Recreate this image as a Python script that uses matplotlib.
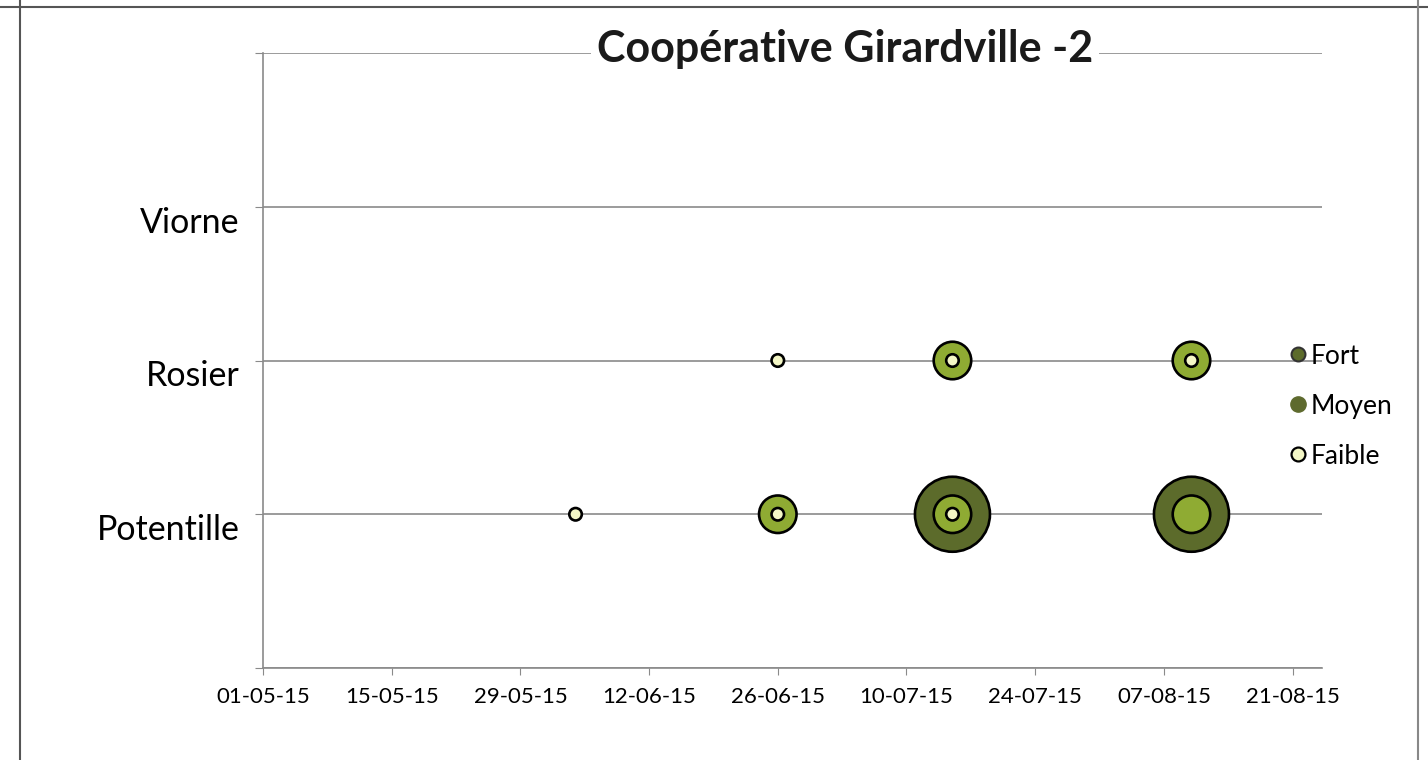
import numpy as np
import pandas as pd
import matplotlib
matplotlib.use('Agg')
import matplotlib.pyplot as plt
import matplotlib.dates as mdates
from matplotlib.lines import Line2D

plt.rcParams['font.family'] = ['Lato', 'DejaVu Sans']

# categories on the y axis
plantes = ['Potentille', 'Rosier', 'Viorne']

# series: dates, plant, bubble value (area units)
fort_dates = ['2015-07-15', '2015-08-10']
fort_plante = ['Potentille', 'Potentille']
fort_val = [36, 36]

moyen_dates = ['2015-06-26', '2015-07-15', '2015-08-10', '2015-07-15', '2015-08-10']
moyen_plante = ['Potentille', 'Potentille', 'Potentille', 'Rosier', 'Rosier']
moyen_val = [9, 9, 9, 9, 9]

faible_dates = ['2015-06-04', '2015-06-26', '2015-07-15', '2015-06-26', '2015-07-15', '2015-08-10']
faible_plante = ['Potentille', 'Potentille', 'Potentille', 'Rosier', 'Rosier', 'Rosier']
faible_val = [1, 1, 1, 1, 1, 1]

tick_dates = pd.date_range('2015-05-01', '2015-08-21', freq='14D')

fig = plt.figure(figsize=(14.28, 7.6), dpi=100)
ax = fig.add_axes([263/1428, 1-668/760, (1322-263)/1428, (668-53)/760])

ypos = {p: i + 1 for i, p in enumerate(plantes)}
# value 1 -> bubble diameter ~12 px
def taille(v):
    d_px = 12.5 * np.sqrt(np.array(v, dtype=float))
    return (d_px * 0.72) ** 2

series = [
    ('Fort', fort_dates, fort_plante, fort_val, '#5c6b2b', 2),
    ('Moyen', moyen_dates, moyen_plante, moyen_val, '#8fab33', 3),
    ('Faible', faible_dates, faible_plante, faible_val, '#f4f7c6', 4),
]
for nom, dts, pl, val, col, z in series:
    x = pd.to_datetime(dts)
    y = [ypos[p] for p in pl]
    ax.scatter(x, y, s=taille(val), c=col, edgecolors='black', linewidths=1.9, zorder=z)

ax.set_xlim(pd.Timestamp('2015-05-01'), pd.Timestamp('2015-05-01') + pd.Timedelta(days=115.2))
ax.set_ylim(0, 4)
ax.set_xticks(tick_dates)
ax.xaxis.set_major_formatter(mdates.DateFormatter('%d-%m-%y'))
ax.set_yticks([0, 1, 2, 3, 4])
ax.set_yticklabels(['', 'Potentille', 'Rosier', 'Viorne', ''])
for lab in ax.get_yticklabels():
    lab.set_va('top')

ax.grid(axis='y', color='#8a8a8a', linewidth=1.2, zorder=0)
ax.set_axisbelow(True)
for s in ['top', 'right']:
    ax.spines[s].set_visible(False)
for s in ['left', 'bottom']:
    ax.spines[s].set_color('#8a8a8a')
    ax.spines[s].set_linewidth(1.2)
ax.tick_params(axis='x', direction='out', length=5, color='#8a8a8a', labelsize=16, pad=9)
ax.tick_params(axis='y', direction='out', length=6, color='#8a8a8a', labelsize=24.5, pad=11)

fig.text(845/1428, 1-49/760, 'Coopérative Girardville -2', ha='center', va='center',
         fontsize=31, fontweight='bold', color='#1a1a1a',
         bbox=dict(facecolor='white', edgecolor='none', pad=4))

handles = [
    Line2D([], [], marker='o', linestyle='none', markersize=10, markerfacecolor='#5c6b2b',
           markeredgecolor='#333333', markeredgewidth=1.5),
    Line2D([], [], marker='o', linestyle='none', markersize=11, markerfacecolor='#5e6a2e',
           markeredgecolor='#5e6a2e'),
    Line2D([], [], marker='o', linestyle='none', markersize=10, markerfacecolor='#f4f7c6',
           markeredgecolor='black', markeredgewidth=1.6),
]
fig.legend(handles, ['Fort', 'Moyen', 'Faible'], loc='upper left',
           bbox_to_anchor=(1280/1428, 1-333/760), frameon=False, fontsize=19,
           handlelength=0.6, handletextpad=0.15, labelspacing=0.95, borderaxespad=0)

# cadre autour de la figure
fig.add_artist(Line2D([0, 1], [1-7/760, 1-7/760], color='#555555', linewidth=1.5))
fig.add_artist(Line2D([20/1428, 20/1428], [0, 1], color='#555555', linewidth=1.5))
fig.add_artist(Line2D([1418/1428, 1418/1428], [0, 1], color='#888888', linewidth=1.5))

fig.savefig('out.png', dpi=100)
